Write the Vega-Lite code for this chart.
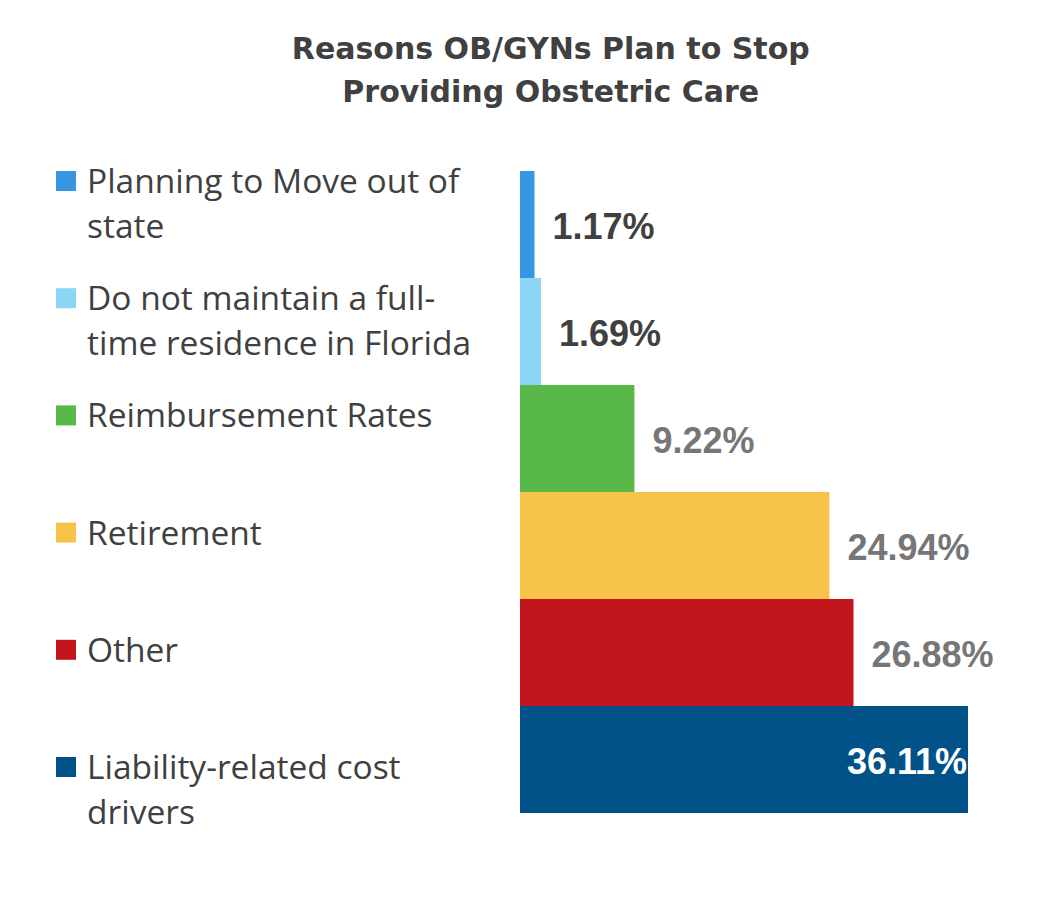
{
  "$schema": "https://vega.github.io/schema/vega-lite/v6.json",
  "padding": {"left": 56, "top": 35, "right": 40, "bottom": 60},
  "bounds": "flush",
  "background": "white",
  "config": {"view": {"stroke": null}},
  "title": {
    "text": ["Reasons OB/GYNs Plan to Stop", "Providing Obstetric Care"],
    "font": "DejaVu Sans",
    "fontSize": 30,
    "fontWeight": "bold",
    "color": "#404040",
    "lineHeight": 43,
    "anchor": "middle",
    "dx": 26,
    "offset": 58
  },
  "data": {
    "values": [
      {"category": "Planning to Move out of state", "lines": ["Planning to Move out of", "state"], "value": 0.0117},
      {"category": "Do not maintain a full-time residence in Florida", "lines": ["Do not maintain a full-", "time residence in Florida"], "value": 0.0169},
      {"category": "Reimbursement Rates", "lines": ["\u00a0Reimbursement Rates"], "value": 0.0922},
      {"category": "Retirement", "lines": ["Retirement"], "value": 0.2494},
      {"category": "Other", "lines": ["Other"], "value": 0.2688},
      {"category": "Liability-related cost drivers", "lines": ["Liability-related cost", "drivers"], "value": 0.3611}
    ]
  },
  "spacing": 10,
  "hconcat": [
    {
      "width": 444,
      "height": 642,
      "layer": [
        {
          "mark": {"type": "point", "shape": "square", "filled": true, "opacity": 1, "size": 400},
          "encoding": {
            "x": {"datum": 0, "type": "quantitative", "scale": {"domain": [0, 1]}, "axis": null},
            "y": {"field": "category", "type": "nominal", "sort": null, "scale": {"type": "point", "padding": 0, "range": [10, 596]}, "axis": null},
            "color": {
              "field": "category", "type": "nominal", "sort": null, "legend": null,
              "scale": {"range": ["#3597E2", "#8DD5F5", "#58B848", "#F6C44A", "#C3161C", "#005289"]}
            }
          }
        },
        {
          "mark": {"type": "text", "align": "left", "baseline": "alphabetic", "dx": 21, "dy": 12, "font": "Open Sans", "fontSize": 33.5, "lineHeight": 45, "color": "#404040"},
          "encoding": {
            "x": {"datum": 0, "type": "quantitative", "scale": {"domain": [0, 1]}, "axis": null},
            "y": {"field": "category", "type": "nominal", "sort": null, "scale": {"type": "point", "padding": 0, "range": [10, 596]}, "axis": null},
            "text": {"field": "lines"}
          }
        }
      ]
    },
    {
      "width": 448,
      "height": 642,
      "encoding": {
        "y": {"field": "category", "type": "nominal", "sort": null, "scale": {"paddingInner": 0, "paddingOuter": 0}, "axis": null},
        "x": {"field": "value", "type": "quantitative", "scale": {"domain": [0, 0.3611], "nice": false}, "axis": null}
      },
      "layer": [
        {
          "mark": {"type": "bar"},
          "encoding": {
            "color": {
              "field": "category", "type": "nominal", "sort": null, "legend": null,
              "scale": {"range": ["#3597E2", "#8DD5F5", "#58B848", "#F6C44A", "#C3161C", "#005289"]}
            }
          }
        },
        {
          "transform": [{"filter": "datum.value < 0.3"}],
          "mark": {"type": "text", "align": "left", "baseline": "middle", "dx": 18, "dy": 3, "font": "Liberation Sans", "fontSize": 36, "fontWeight": "bold"},
          "encoding": {
            "text": {"field": "value", "type": "quantitative", "format": ".2%"},
            "color": {"condition": {"test": "datum.value < 0.05", "value": "#404040"}, "value": "#767676"}
          }
        },
        {
          "transform": [{"filter": "datum.value >= 0.3"}],
          "mark": {"type": "text", "align": "right", "baseline": "middle", "dx": -1, "dy": 3, "font": "Liberation Sans", "fontSize": 36, "fontWeight": "bold", "color": "white"},
          "encoding": {
            "text": {"field": "value", "type": "quantitative", "format": ".2%"}
          }
        }
      ]
    }
  ]
}
